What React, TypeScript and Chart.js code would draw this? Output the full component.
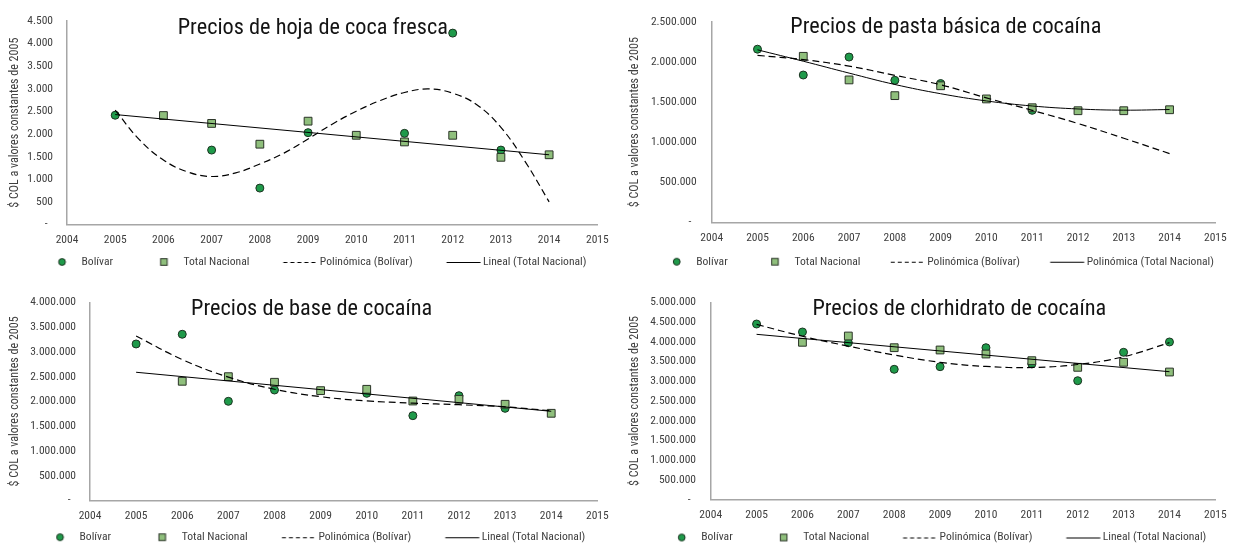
import React, { useEffect, useRef } from 'react';
import { Chart, registerables } from 'chart.js';

Chart.register(...registerables);

const FONT = "'Roboto Condensed', 'Open Sans', sans-serif";

// ---------------- shared data ----------------
const YEARS = [2005, 2006, 2007, 2008, 2009, 2010, 2011, 2012, 2013, 2014];
const X_MIN = 2004;
const X_MAX = 2015;
const Y_TITLE = '$ COL a valores constantes de 2005';
const LBL_BOLIVAR = 'Bolívar';
const LBL_TOTAL = 'Total Nacional';
const LBL_POLY_BOL = 'Polinómica (Bolívar)';
const LBL_LIN_TOT = 'Lineal (Total Nacional)';
const LBL_POLY_TOT = 'Polinómica (Total Nacional)';

// ---------------- chart 1: hoja de coca fresca ----------------
const HOJA_TITLE = 'Precios de hoja de coca fresca';
const HOJA_Y_MAX = 4500;
const HOJA_Y_STEP = 500;
const HOJA_BOLIVAR = [2415, null, 1645, 805, 2030, null, 2015, 4230, 1645, null];
const HOJA_TOTAL = [null, 2408, 2234, 1775, 2284, 1972, 1825, 1972, 1485, 1541];
const HOJA_POLY_BOL_X = [2005, 2005.5, 2006, 2006.5, 2007, 2007.5, 2008, 2008.5, 2009, 2009.5, 2010, 2010.5, 2011, 2011.5, 2012, 2012.5, 2013, 2013.5, 2014];
const HOJA_POLY_BOL_Y = [2530, 1876, 1425, 1163, 1061, 1141, 1338, 1578, 1890, 2218, 2502, 2742, 2917, 2997, 2902, 2648, 2146, 1395, 500];
const HOJA_LIN_TOT_X = [2005, 2014];
const HOJA_LIN_TOT_Y = [2430, 1541];

// ---------------- chart 2: pasta básica de cocaína ----------------
const PASTA_TITLE = 'Precios de pasta básica de cocaína';
const PASTA_Y_MAX = 2500000;
const PASTA_Y_STEP = 500000;
const PASTA_BOLIVAR = [2160000, 1838000, 2062000, 1772000, 1732000, null, 1398000, null, null, null];
const PASTA_TOTAL = [null, 2071000, 1777000, 1581000, 1704000, 1540000, 1430000, 1393000, 1393000, 1405000];
const PASTA_POLY_BOL_X = YEARS;
const PASTA_POLY_BOL_Y = [2083000, 2030000, 1949000, 1834000, 1717000, 1553000, 1398000, 1234000, 1050000, 859000];
const PASTA_POLY_TOT_X = YEARS;
const PASTA_POLY_TOT_Y = [2152000, 2010000, 1862000, 1720000, 1605000, 1515000, 1452000, 1415000, 1400000, 1408000];

// ---------------- chart 3: base de cocaína ----------------
const BASE_TITLE = 'Precios de base de cocaína';
const BASE_Y_MAX = 4000000;
const BASE_Y_STEP = 500000;
const BASE_BOLIVAR = [3159000, 3355000, 2002000, 2230000, null, 2163000, 1712000, 2115000, 1860000, null];
const BASE_TOTAL = [null, 2406000, 2499000, 2386000, 2217000, 2244000, 2008000, 2042000, 1942000, 1760000];
const BASE_POLY_BOL_X = YEARS;
const BASE_POLY_BOL_Y = [3320000, 2845000, 2490000, 2245000, 2095000, 2010000, 1965000, 1933000, 1890000, 1810000];
const BASE_LIN_TOT_X = [2005, 2014];
const BASE_LIN_TOT_Y = [2588000, 1800000];

// ---------------- chart 4: clorhidrato de cocaína ----------------
const CLOR_TITLE = 'Precios de clorhidrato de cocaína';
const CLOR_Y_MAX = 5000000;
const CLOR_Y_STEP = 500000;
const CLOR_BOLIVAR = [4450000, 4248000, 3977000, 3303000, 3369000, 3850000, 3437000, 3014000, 3733000, 3995000];
const CLOR_TOTAL = [null, 3987000, 4146000, 3850000, 3792000, 3690000, 3521000, 3353000, 3480000, 3234000];
const CLOR_POLY_BOL_X = YEARS;
const CLOR_POLY_BOL_Y = [4440000, 4140000, 3890000, 3665000, 3480000, 3375000, 3350000, 3425000, 3622000, 3977000];
const CLOR_LIN_TOT_X = [2005, 2014];
const CLOR_LIN_TOT_Y = [4189000, 3242000];

// ---------------- styles ----------------
const BOL_FILL = '#1f9a4a';
const BOL_STROKE = '#1c3321';
const TOT_FILL = '#8fbf7c';
const TOT_STROKE = '#2a3327';
const AXIS_COLOR = '#a6a6a6';
const TEXT_COLOR = '#404040';
const LEGEND_FONT = 11.6;
const TICK_FONT = 11.5;
const YTITLE_FONT = 12;
const TITLE_FONT = 22.3;
const KEY_TEXT_GAP = 19.5;

// target geometry of each panel (canvas-relative pixels)
type Frame = {
  left: number; top: number; w: number;
  areaL: number; areaR: number; areaT: number; areaB: number;
  yTitleX: number; tickPad: number; legendY: number; key1: number; key4: number;
  titleX: number; titleY: number;
};

type Spec = {
  title: string; yMax: number; yStep: number;
  bolivar: (number | null)[]; total: (number | null)[];
  trend1X: number[]; trend1Y: number[];
  trend2X: number[]; trend2Y: number[]; trend2Label: string; trend2Curved: boolean;
  frame: Frame;
};

const SPECS: Spec[] = [
  {
    title: HOJA_TITLE, yMax: HOJA_Y_MAX, yStep: HOJA_Y_STEP,
    bolivar: HOJA_BOLIVAR, total: HOJA_TOTAL,
    trend1X: HOJA_POLY_BOL_X, trend1Y: HOJA_POLY_BOL_Y,
    trend2X: HOJA_LIN_TOT_X, trend2Y: HOJA_LIN_TOT_Y, trend2Label: LBL_LIN_TOT, trend2Curved: false,
    frame: { left: 0, top: 0, w: 617, areaL: 67, areaR: 605, areaT: 18.3, areaB: 224.5,
      yTitleX: 15, tickPad: 14, legendY: 262, key1: 62, key4: 463.5, titleX: 312.8, titleY: 34 },
  },
  {
    title: PASTA_TITLE, yMax: PASTA_Y_MAX, yStep: PASTA_Y_STEP,
    bolivar: PASTA_BOLIVAR, total: PASTA_TOTAL,
    trend1X: PASTA_POLY_BOL_X, trend1Y: PASTA_POLY_BOL_Y,
    trend2X: PASTA_POLY_TOT_X, trend2Y: PASTA_POLY_TOT_Y, trend2Label: LBL_POLY_TOT, trend2Curved: true,
    frame: { left: 617, top: 0, w: 618, areaL: 94.7, areaR: 606, areaT: 18.3, areaB: 222.5,
      yTitleX: 18, tickPad: 15, legendY: 261.7, key1: 59.7, key4: 450.2, titleX: 328.8, titleY: 32.5 },
  },
  {
    title: BASE_TITLE, yMax: BASE_Y_MAX, yStep: BASE_Y_STEP,
    bolivar: BASE_BOLIVAR, total: BASE_TOTAL,
    trend1X: BASE_POLY_BOL_X, trend1Y: BASE_POLY_BOL_Y,
    trend2X: BASE_LIN_TOT_X, trend2Y: BASE_LIN_TOT_Y, trend2Label: LBL_LIN_TOT, trend2Curved: false,
    frame: { left: 0, top: 272, w: 617, areaL: 90, areaR: 603.3, areaT: 30.3, areaB: 228.5,
      yTitleX: 15, tickPad: 14, legendY: 265.2, key1: 60, key4: 462.3, titleX: 311.7, titleY: 43 },
  },
  {
    title: CLOR_TITLE, yMax: CLOR_Y_MAX, yStep: CLOR_Y_STEP,
    bolivar: CLOR_BOLIVAR, total: CLOR_TOTAL,
    trend1X: CLOR_POLY_BOL_X, trend1Y: CLOR_POLY_BOL_Y,
    trend2X: CLOR_LIN_TOT_X, trend2Y: CLOR_LIN_TOT_Y, trend2Label: LBL_LIN_TOT, trend2Curved: false,
    frame: { left: 617, top: 272, w: 618, areaL: 93.7, areaR: 606, areaT: 30.3, areaB: 227.7,
      yTitleX: 18, tickPad: 14.7, legendY: 265.5, key1: 64.7, key4: 466.3, titleX: 342.3, titleY: 43 },
  },
];

function formatThousands(v: number): string {
  if (v === 0) return '-  ';
  return String(Math.round(v)).replace(/\B(?=(\d{3})+(?!\d))/g, '.');
}

// derive Chart.js layout numbers (paddings, box sizes) from the target frame
function computeLayout(fr: Frame, texts: string[]) {
  const f = LEGEND_FONT;
  const d = KEY_TEXT_GAP;
  const m = document.createElement('canvas').getContext('2d') as CanvasRenderingContext2D;
  m.font = `${f}px ${FONT}`;
  const t = texts.map((s) => m.measureText(s).width);
  const T = t.reduce((a, b) => a + b, 0);
  const g = ((fr.key4 - fr.key1) - 3 * d - (t[0] + t[1] + t[2])) / 3;
  let p = 12;
  let B = 0;
  let padL = 0;
  for (const cand of [12, 10, 8, 6, 4, 2, 1]) {
    p = cand;
    B = g - p - f / 2 + d;
    const start = fr.key1 - (g - p);
    const sumItems = 4 * (B + f / 2) + T;
    const center = start + (sumItems + 3 * p) / 2;
    padL = 2 * center - fr.areaR;
    const maxW = fr.areaR - padL;
    if (sumItems + 5 * p <= maxW - 0.5 && start + sumItems + 4 * p <= fr.areaR - 0.5) break;
  }
  const X = fr.legendY - fr.areaB - p - f / 2;
  const legendH = f + p + 10;
  const total = fr.areaB + X + legendH;
  const h = Math.ceil(total);
  return {
    h, padL, padR: fr.w - fr.areaR, padT: fr.areaT, padB: h - total,
    xHeight: X, yWidth: fr.areaL - padL,
    yTitlePad: fr.yTitleX - padL - (YTITLE_FONT * 1.2) / 2,
    legendPad: p, boxW: B, keyOffset: B / 2 + f / 2 - d,
  };
}

function makeKey(kind: string, offset: number): HTMLCanvasElement {
  const w = Math.ceil(2 * (Math.abs(offset) + 20));
  const h = 14;
  const c = document.createElement('canvas');
  c.width = w;
  c.height = h;
  const ctx = c.getContext('2d') as CanvasRenderingContext2D;
  const cx = w / 2 + offset;
  const cy = h / 2;
  ctx.lineWidth = 1;
  if (kind === 'circle') {
    ctx.beginPath();
    ctx.arc(cx, cy, 3.4, 0, Math.PI * 2);
    ctx.fillStyle = BOL_FILL;
    ctx.fill();
    ctx.strokeStyle = BOL_STROKE;
    ctx.stroke();
  } else if (kind === 'square') {
    ctx.fillStyle = TOT_FILL;
    ctx.fillRect(cx - 3.3, cy - 3.3, 6.6, 6.6);
    ctx.strokeStyle = TOT_STROKE;
    ctx.strokeRect(cx - 3.3, cy - 3.3, 6.6, 6.6);
  } else {
    ctx.strokeStyle = '#000';
    ctx.lineWidth = 1.1;
    ctx.setLineDash(kind === 'dash' ? [4, 3] : []);
    ctx.beginPath();
    ctx.moveTo(cx - 17, cy + 0.5);
    ctx.lineTo(cx + 17, cy + 0.5);
    ctx.stroke();
  }
  return c;
}

const titlePlugin = {
  id: 'panelTitle',
  afterDraw(chart: any, _args: any, opts: any) {
    const ctx = chart.ctx as CanvasRenderingContext2D;
    ctx.save();
    ctx.font = `${opts.size}px ${FONT}`;
    ctx.fillStyle = opts.color;
    ctx.textAlign = 'center';
    ctx.textBaseline = 'alphabetic';
    ctx.fillText(opts.text, opts.x, opts.y);
    ctx.restore();
  },
};

function toPoints(xs: number[], ys: (number | null)[]) {
  return xs.map((x, i) => ({ x, y: ys[i] })).filter((p) => p.y !== null && p.y !== undefined);
}

function buildConfig(s: Spec, L: ReturnType<typeof computeLayout>): any {
  const fr = s.frame;
  const legendItems = [
    { text: LBL_BOLIVAR, img: makeKey('circle', L.keyOffset) },
    { text: LBL_TOTAL, img: makeKey('square', L.keyOffset) },
    { text: LBL_POLY_BOL, img: makeKey('dash', L.keyOffset) },
    { text: s.trend2Label, img: makeKey('solid', L.keyOffset) },
  ];
  const tickFont = { family: FONT, size: TICK_FONT };
  return {
    type: 'line',
    data: {
      datasets: [
        {
          label: LBL_BOLIVAR, data: toPoints(YEARS, s.bolivar), showLine: false,
          pointStyle: 'circle', pointRadius: 4, pointBackgroundColor: BOL_FILL,
          pointBorderColor: BOL_STROKE, pointBorderWidth: 1, order: 2,
        },
        {
          label: LBL_TOTAL, data: toPoints(YEARS, s.total), showLine: false,
          pointStyle: 'rect', pointRadius: 5.5, pointBackgroundColor: TOT_FILL,
          pointBorderColor: TOT_STROKE, pointBorderWidth: 1, order: 1,
        },
        {
          label: LBL_POLY_BOL, data: toPoints(s.trend1X, s.trend1Y), borderColor: '#000',
          borderWidth: 1.2, borderDash: [7, 4], pointRadius: 0, tension: 0.4, fill: false, order: 0,
        },
        {
          label: s.trend2Label, data: toPoints(s.trend2X, s.trend2Y), borderColor: '#000',
          borderWidth: 1, pointRadius: 0, tension: s.trend2Curved ? 0.4 : 0, fill: false, order: 0,
        },
      ],
    },
    options: {
      animation: false,
      responsive: false,
      events: [],
      layout: { padding: { left: L.padL, right: L.padR, top: L.padT, bottom: L.padB } },
      scales: {
        x: {
          type: 'linear', min: X_MIN, max: X_MAX,
          ticks: { stepSize: 1, autoSkip: false, maxRotation: 0, padding: 8.3, font: tickFont, color: TEXT_COLOR,
            callback: (v: number) => String(v) },
          grid: { display: false, drawTicks: false },
          border: { display: true, color: AXIS_COLOR, width: 1.5 },
          afterFit: (scale: any) => { scale.height = L.xHeight; },
        },
        y: {
          min: 0, max: s.yMax,
          ticks: { stepSize: s.yStep, autoSkip: false, padding: fr.tickPad, font: tickFont, color: TEXT_COLOR,
            callback: (v: number) => formatThousands(v) },
          grid: { display: false, drawTicks: false },
          border: { display: true, color: AXIS_COLOR, width: 1.5 },
          title: { display: true, text: Y_TITLE, font: { family: FONT, size: YTITLE_FONT }, color: TEXT_COLOR,
            padding: { top: L.yTitlePad, bottom: 0 } },
          afterFit: (scale: any) => { scale.width = L.yWidth; },
        },
      },
      plugins: {
        tooltip: { enabled: false },
        title: { display: false },
        legend: {
          display: true,
          position: 'bottom',
          labels: {
            usePointStyle: true,
            pointStyleWidth: L.boxW,
            padding: L.legendPad,
            font: { family: FONT, size: LEGEND_FONT },
            color: TEXT_COLOR,
            generateLabels: () => legendItems.map((it, i) => ({
              text: it.text, fontColor: TEXT_COLOR, pointStyle: it.img, hidden: false,
              datasetIndex: i, lineWidth: 0, strokeStyle: 'rgba(0,0,0,0)', fillStyle: 'rgba(0,0,0,0)',
            })),
          },
        },
        panelTitle: { text: s.title, x: fr.titleX, y: fr.titleY, size: TITLE_FONT, color: '#141414' },
      },
    },
    plugins: [titlePlugin],
  };
}

function Panel({ spec }: { spec: Spec }) {
  const ref = useRef<HTMLCanvasElement | null>(null);
  const fr = spec.frame;
  const L = computeLayout(fr, [LBL_BOLIVAR, LBL_TOTAL, LBL_POLY_BOL, spec.trend2Label]);
  useEffect(() => {
    const canvas = ref.current;
    if (!canvas) return;
    const chart = new Chart(canvas, buildConfig(spec, L));
    return () => chart.destroy();
  }, [spec]);
  return (
    <canvas
      ref={ref}
      width={fr.w}
      height={L.h}
      style={{ position: 'absolute', left: fr.left, top: fr.top, width: fr.w, height: L.h }}
    />
  );
}

export default function App() {
  return (
    <div style={{ position: 'absolute', left: 0, top: 0, width: 1235, height: 543, overflow: 'hidden', background: '#ffffff' }}>
      {SPECS.map((s, i) => <Panel key={i} spec={s} />)}
    </div>
  );
}
